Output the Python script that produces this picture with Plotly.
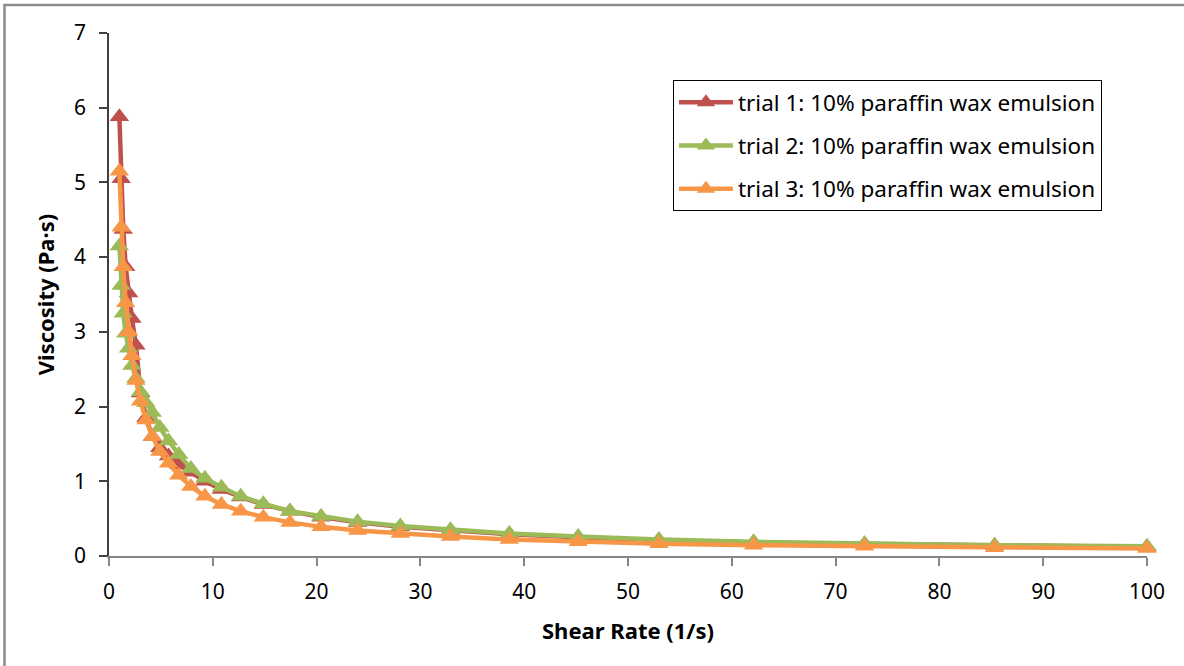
import plotly.graph_objects as go

# Shear rate steps (1/s), log-spaced sweep from 1 to 100
shear_rate = [1.0, 1.172, 1.374, 1.61, 1.887, 2.212, 2.593, 3.039, 3.562, 4.175,
              4.894, 5.736, 6.723, 7.88, 9.237, 10.83, 12.69, 14.87, 17.43, 20.43,
              23.95, 28.07, 32.9, 38.57, 45.2, 52.98, 62.1, 72.79, 85.32, 100.0]

# Viscosity (Pa·s) for each trial
trial_1 = [5.88, 5.05, 4.37, 3.87, 3.52, 3.18, 2.82, 2.18, 1.85, 1.6,
           1.45, 1.34, 1.22, 1.12, 1.0, 0.89, 0.79, 0.69, 0.6, 0.52,
           0.45, 0.39, 0.34, 0.29, 0.25, 0.21, 0.18, 0.16, 0.14, 0.12]
trial_2 = [4.15, 3.62, 3.25, 2.98, 2.78, 2.55, 2.38, 2.2, 2.05, 1.92,
           1.72, 1.54, 1.36, 1.17, 1.04, 0.92, 0.8, 0.7, 0.6, 0.53,
           0.46, 0.4, 0.35, 0.3, 0.26, 0.22, 0.19, 0.165, 0.145, 0.13]
trial_3 = [5.15, 4.4, 3.87, 3.39, 3.0, 2.68, 2.35, 2.07, 1.82, 1.6,
           1.4, 1.24, 1.08, 0.93, 0.8, 0.69, 0.6, 0.52, 0.45, 0.39,
           0.34, 0.3, 0.26, 0.22, 0.19, 0.165, 0.145, 0.13, 0.11, 0.1]

series_names = ["trial 1: 10% paraffin wax emulsion",
                "trial 2: 10% paraffin wax emulsion",
                "trial 3: 10% paraffin wax emulsion"]
series_colors = ["#C0504D", "#9BBB59", "#F79646"]

FONT = "Noto Sans"
TICK_SIZE = 21
TITLE_SIZE = 22
LEGEND_SIZE = 22.5

fig = go.Figure()
for i, (name, vals, col) in enumerate(zip(series_names, [trial_1, trial_2, trial_3], series_colors)):
    fig.add_trace(go.Scatter(
        x=shear_rate, y=vals, name=name, mode="lines+markers",
        legendgroup=f"g{i}",
        line=dict(color=col, width=4.5),
        marker=dict(symbol="triangle-up", size=17, color=col),
        cliponaxis=False,
    ))

fig.update_layout(
    width=1184, height=666,
    margin=dict(l=109, r=37, t=33, b=110),
    paper_bgcolor="white", plot_bgcolor="white",
    font=dict(family=FONT, size=TICK_SIZE, color="black"),
    showlegend=True,
    legend=dict(
        x=0.5433, y=0.910, xanchor="left", yanchor="top",
        bordercolor="black", borderwidth=1, bgcolor="white",
        font=dict(family=FONT, size=LEGEND_SIZE, color="black"),
        itemwidth=54, tracegroupgap=11,
    ),
    xaxis=dict(
        range=[0, 100], dtick=10, tick0=0,
        showgrid=False, zeroline=False,
        showline=True, linecolor="#868686", linewidth=2,
        ticks="outside", ticklen=8, tickcolor="#868686", tickwidth=1.5,
        ticklabelstandoff=8,
        tickfont=dict(family=FONT, size=TICK_SIZE),
        title=dict(text="<b>Shear Rate (1/s)</b>", font=dict(family=FONT, size=TITLE_SIZE), standoff=19),
    ),
    yaxis=dict(
        range=[0, 7], dtick=1, tick0=0,
        showgrid=False, zeroline=False,
        showline=True, linecolor="#404040", linewidth=1.5,
        ticks="outside", ticklen=8, tickcolor="#404040", tickwidth=1.5,
        ticklabelstandoff=9,
        tickfont=dict(family=FONT, size=TICK_SIZE),
        title=dict(text="<b>Viscosity (Pa·s)</b>", font=dict(family=FONT, size=TITLE_SIZE), standoff=13),
    ),
    shapes=[dict(
        type="rect", xref="paper", yref="paper",
        x0=-0.1007, x1=1.12, y0=-0.3, y1=1.0535,
        line=dict(color="#8C8C8C", width=2.5), fillcolor="rgba(0,0,0,0)",
        layer="below",
    )],
)

fig.write_html("out.html")
